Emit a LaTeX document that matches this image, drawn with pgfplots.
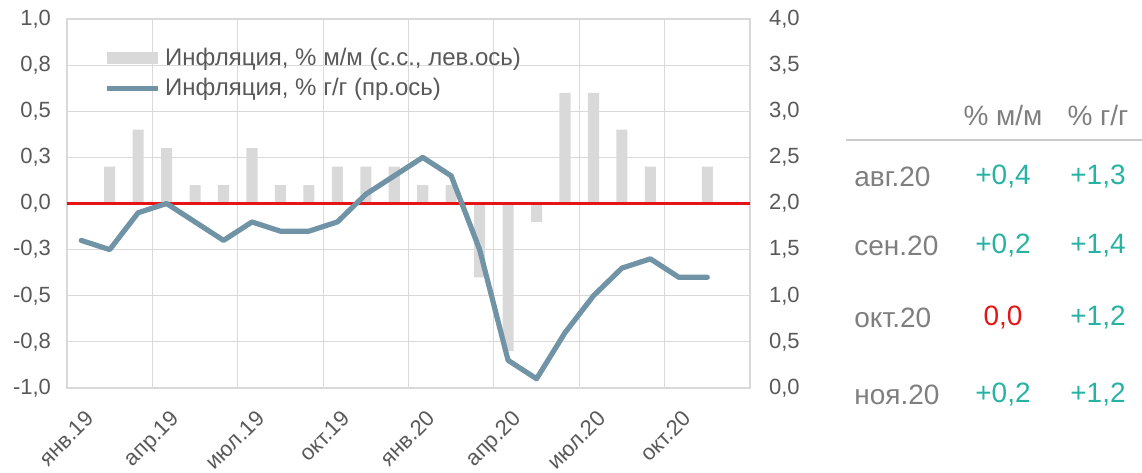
\documentclass[border=0pt]{standalone}
\usepackage{fontspec}
\setmainfont{Liberation Sans}
\usepackage{pgfplots}
\pgfplotsset{compat=1.18}
\definecolor{tickgray}{HTML}{595959}
\definecolor{gridgray}{HTML}{D9D9D9}
\definecolor{bargray}{HTML}{D9D9D9}
\definecolor{linecol}{HTML}{7094A6}
\definecolor{tabgray}{HTML}{7F7F7F}
\definecolor{tealc}{HTML}{26B3A3}
\definecolor{redc}{RGB}{230,20,20}
\begin{document}
\begin{tikzpicture}
\path[use as bounding box] (-33.5pt,-42pt) rectangle (537.5pt,194pt);
\begin{axis}[
  at={(0,0)}, anchor=south west,
  scale only axis, width=341.5pt, height=184.5pt,
  xmin=-0.5, xmax=23.5, ymin=-1, ymax=1,
  xtick={0,3,6,9,12,15,18,21},
  xticklabels={янв.19,апр.19,июл.19,окт.19,янв.20,апр.20,июл.20,окт.20},
  minor xtick={-0.5,2.5,5.5,8.5,11.5,14.5,17.5,20.5,23.5},
  xminorgrids,
  ytick={-1,-0.75,-0.5,-0.25,0.25,0.5,0.75,1},
  extra y ticks={0}, extra y tick labels={0{,}0},
  extra y tick style={grid=major, major grid style={draw=redc, line width=1.2pt}},
  yticklabels={{-1,0},{-0,8},{-0,5},{-0,3},{0,3},{0,5},{0,8},{1,0}},
  ymajorgrids,
  major tick length=0pt, minor tick length=0pt,
  axis line style={gridgray, line width=0.6pt},
  grid style={gridgray, line width=0.6pt},
  minor grid style={gridgray, line width=0.6pt},
  tick label style={font=\fontsize{11}{13}\selectfont, text=tickgray},
  yticklabel style={xshift=-4.5pt},
  xticklabel style={rotate=45, anchor=north east, yshift=-5pt, xshift=-3pt},
  legend style={at={(rel axis cs:0.046,0.945)}, anchor=north west, draw=none, fill=none,
    font=\fontsize{12}{14}\selectfont, text=tickgray, row sep=1pt,
    /tikz/every even column/.append style={column sep=2pt}},
  legend cell align=left,
  clip=false,
]
\addplot[ybar, bar width=0.39, fill=bargray, draw=none,
  legend image code/.code={\fill[bargray] (0pt,-3pt) rectangle (25.5pt,3pt);}]
  coordinates {(0,0) (1,0.2) (2,0.4) (3,0.3) (4,0.1) (5,0.1) (6,0.3) (7,0.1) (8,0.1)
  (9,0.2) (10,0.2) (11,0.2) (12,0.1) (13,0.1) (14,-0.4) (15,-0.8) (16,-0.1)
  (17,0.6) (18,0.6) (19,0.4) (20,0.2) (21,0) (22,0.2)};
\addlegendentry{Инфляция, \% м/м (с.с., лев.ось)}
\addlegendimage{legend image code/.code={\draw[linecol, line width=2.6pt] (0pt,0pt) -- (25.5pt,0pt);}}
\addlegendentry{Инфляция, \% г/г (пр.ось)}
\end{axis}
\begin{axis}[
  at={(0,0)}, anchor=south west,
  scale only axis, width=341.5pt, height=184.5pt,
  xmin=-0.5, xmax=23.5, ymin=0, ymax=4,
  axis y line*=right, hide x axis,
  ytick={0,0.5,1,1.5,2,2.5,3,3.5,4},
  yticklabels={{0,0},{0,5},{1,0},{1,5},{2,0},{2,5},{3,0},{3,5},{4,0}},
  major tick length=0pt,
  axis line style={gridgray, line width=0.6pt},
  tick label style={font=\fontsize{11}{13}\selectfont, text=tickgray},
  yticklabel style={xshift=6pt},
]
\addplot[redc, line width=1.2pt, mark=none, forget plot] coordinates {(-0.5,2) (23.5,2)};
\addplot[draw=linecol, line width=2.6pt, line join=round, line cap=round, mark=none]
  coordinates {(0,1.6) (1,1.5) (2,1.9) (3,2.0) (4,1.8) (5,1.6) (6,1.8) (7,1.7) (8,1.7)
  (9,1.8) (10,2.1) (11,2.3) (12,2.5) (13,2.3) (14,1.5) (15,0.3) (16,0.1) (17,0.6)
  (18,1.0) (19,1.3) (20,1.4) (21,1.2) (22,1.2)};
\end{axis}
% table
\begin{scope}[every node/.style={font=\fontsize{14}{16}\selectfont, inner sep=0pt}]
\node[text=tabgray] at (468pt,136.5pt) {\% м/м};
\node[text=tabgray] at (515.5pt,136.5pt) {\% г/г};
\draw[gridgray!85!gray, line width=1pt] (389.5pt,124pt) -- (537.5pt,124pt);
\node[text=tabgray, anchor=west] at (393.5pt,105.5pt) {авг.20};
\node[text=tealc] at (468pt,105.5pt) {+0,4};
\node[text=tealc] at (515.5pt,105.5pt) {+1,3};
\node[text=tabgray, anchor=west] at (393.5pt,71pt) {сен.20};
\node[text=tealc] at (468pt,71pt) {+0,2};
\node[text=tealc] at (515.5pt,71pt) {+1,4};
\node[text=tabgray, anchor=west] at (393.5pt,35pt) {окт.20};
\node[text=redc] at (468pt,35pt) {0,0};
\node[text=tealc] at (515.5pt,35pt) {+1,2};
\node[text=tabgray, anchor=west] at (393.5pt,-3.5pt) {ноя.20};
\node[text=tealc] at (468pt,-3.5pt) {+0,2};
\node[text=tealc] at (515.5pt,-3.5pt) {+1,2};
\end{scope}
\end{tikzpicture}
\end{document}
